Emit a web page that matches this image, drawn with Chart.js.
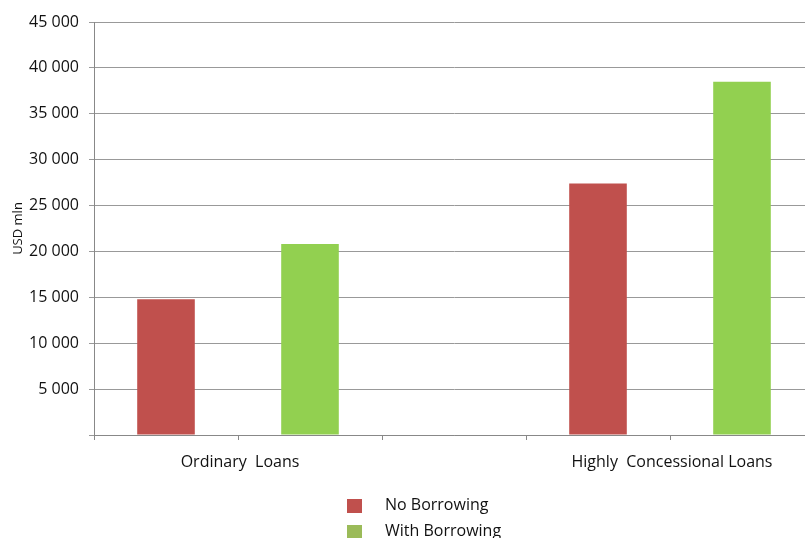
<!DOCTYPE html>
<html>
<head>
<meta charset="utf-8">
<script src="https://cdn.jsdelivr.net/npm/chart.js@4"></script>
<style>
  body { margin: 0; background: #fff; }
  #wrap { position: relative; width: 805px; height: 538px; overflow: hidden; }
  .key { position: absolute; font-family: "Open Sans", sans-serif; font-size: 16px; line-height: 16px; color: #111; white-space: nowrap; }
  .sq { position: absolute; width: 15px; height: 14px; }
</style>
</head>
<body>
<div id="wrap">
  <!-- the original plot runs a few px past the right edge, so the canvas is wider and clipped -->
  <canvas id="myChart" width="814" height="538"></canvas>
  <div class="sq" style="left:347px;top:499px;background:#C0504D"></div>
  <div class="key" style="left:385px;top:496px">No Borrowing</div>
  <div class="sq" style="left:347px;top:525px;background:#9BBB59"></div>
  <div class="key" style="left:385px;top:522px">With Borrowing</div>
</div>
<script>
// data
var groups = ["Ordinary  Loans", "Highly  Concessional Loans"];
var noBorrowing = [14800, 27400];
var withBorrowing = [20800, 38500];
var yTicks = [5000, 10000, 15000, 20000, 25000, 30000, 35000, 40000, 45000];

// five slots: red, green, gap, red, green - the group name sits between its two bars
var slotLabels = ["", groups[0], "", "", groups[1]];
var redSlots = [noBorrowing[0], null, null, noBorrowing[1], null];
var greenSlots = [null, withBorrowing[0], null, null, withBorrowing[1]];

function fmt(v) {
  return String(v).replace(/\B(?=(\d{3})+(?!\d))/g, " ");
}

new Chart("myChart", {
  type: "bar",
  data: {
    labels: slotLabels,
    datasets: [
      { label: "No Borrowing", data: redSlots, backgroundColor: "#C0504D" },
      { label: "With Borrowing", data: greenSlots, backgroundColor: "#92D050" }
    ]
  },
  options: {
    responsive: false,
    animation: false,
    grouped: false,
    categoryPercentage: 1,
    barPercentage: 0.4,
    layout: { padding: { top: 22, left: 0, right: 0, bottom: 0 } },
    plugins: { legend: { display: false }, tooltip: { enabled: false } },
    scales: {
      x: {
        offset: true,
        grid: { drawOnChartArea: false, drawTicks: true, tickLength: 5, color: "#888" },
        border: { color: "#888" },
        ticks: {
          autoSkip: false, maxRotation: 0, minRotation: 0,
          labelOffset: -70, padding: 13,
          color: "#111",
          font: { family: "Open Sans", size: 16 }
        },
        afterFit: function (s) {
          s.height = 103;
          s.paddingLeft = 0;
          s.paddingRight = 0;
        }
      },
      y: {
        min: 0,
        max: 45000,
        afterBuildTicks: function (s) {
          s.ticks = [{ value: 0 }].concat(yTicks.map(function (v) { return { value: v }; }));
        },
        grid: { color: "#999", tickLength: 5 },
        border: { color: "#888" },
        ticks: {
          padding: 10,
          color: "#111",
          font: { family: "Open Sans", size: 16 },
          callback: function (v) { return v === 0 ? "" : fmt(v); }
        },
        title: {
          display: true,
          text: "USD mln",
          color: "#111",
          font: { family: "Open Sans", size: 13 },
          padding: { top: 10, bottom: 0 }
        },
        afterFit: function (s) { s.width = 94; }
      }
    }
  }
});
</script>
</body>
</html>
